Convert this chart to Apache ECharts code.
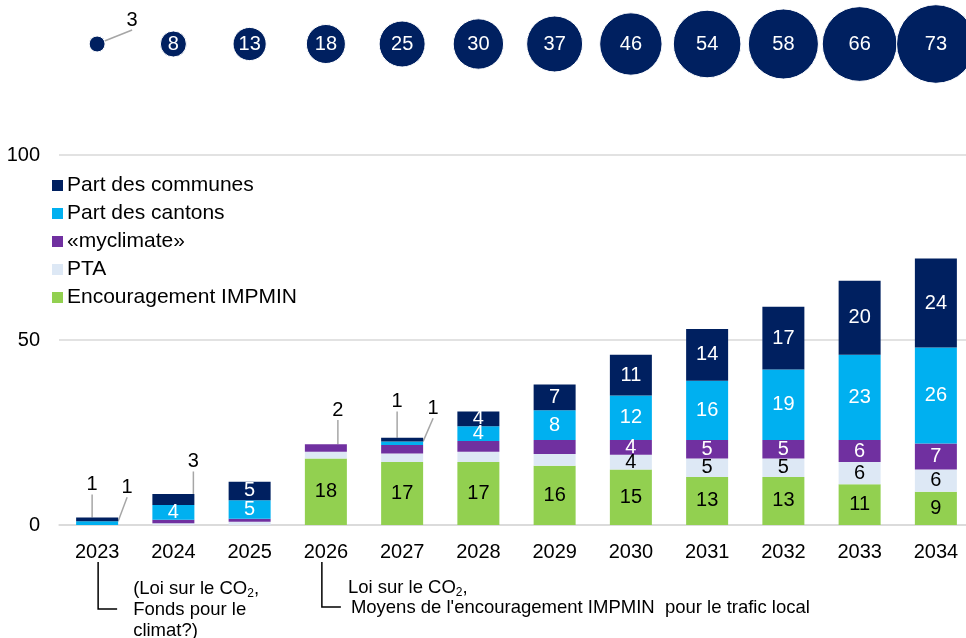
<!DOCTYPE html>
<html>
<head>
<meta charset="utf-8">
<script src="https://cdn.jsdelivr.net/npm/echarts@6/dist/echarts.min.js"></script>
<style>
  html, body { margin: 0; padding: 0; background: #fff; }
  #chart { width: 966px; height: 638px; }
</style>
</head>
<body>
<div id="chart"></div>
<script>
// Years on the category axis
const years = ['2023', '2024', '2025', '2026', '2027', '2028', '2029', '2030', '2031', '2032', '2033', '2034'];

// Totals shown in the bubbles above the bars
const totals = [3, 8, 13, 18, 25, 30, 37, 46, 54, 58, 66, 73];

// Stacked components (bottom to top)
const impmin    = [0, 0, 0, 18, 17, 17, 16, 15, 13, 13, 11, 9];
const pta       = [0, 0.5, 0.9, 1.8, 2.3, 2.8, 3.2, 4, 5, 5, 6, 6];
const myclimate = [0, 0.9, 0.8, 2, 2.3, 2.9, 3.8, 4, 5, 5, 6, 7];
const cantons   = [1, 4, 5, 0, 1, 4, 8, 12, 16, 19, 23, 26];
const communes  = [1, 3, 5, 0, 1, 4, 7, 11, 14, 17, 20, 24];

// Y axis ticks
const yTicks = { min: 0, max: 100, interval: 50 };

const FONT = '"Liberation Sans", Arial, sans-serif';
const C = {
  communes: '#002060',
  cantons: '#00B0F0',
  myclimate: '#7030A0',
  pta: '#DDE8F5',
  impmin: '#92D050'
};

// Small segments get their label pulled out on a guide line (offset in px)
const leaderOffsets = {
  'Part des communes': { 0: [-5, -35], 1: [20, -38], 4: [-5, -38] },
  'Part des cantons': { 0: [30, -36], 4: [31, -35] },
  '«myclimate»': { 3: [12, -38] }
};

const guideLine = { show: true, length2: 0, lineStyle: { color: '#A6A6A6', width: 1.5 } };

function segmentData(name, values, textColor) {
  return values.map((v, i) => {
    const item = { value: v };
    const isStated = v > 0 && Number.isInteger(v);
    if (!isStated) {
      item.label = { show: false };
    } else if (leaderOffsets[name] && leaderOffsets[name][i]) {
      item.label = { show: true, color: '#000' };
      item.labelLine = guideLine;
    } else {
      item.label = { show: true, color: textColor };
    }
    return item;
  });
}

function barSeries(name, values, color, textColor) {
  return {
    name: name,
    type: 'bar',
    stack: 'total',
    barWidth: 42,
    xAxisIndex: 0,
    yAxisIndex: 0,
    itemStyle: { color: color },
    label: {
      show: true,
      position: 'inside',
      fontFamily: FONT,
      fontSize: 20,
      color: textColor
    },
    labelLayout: function (p) {
      const off = leaderOffsets[name] && leaderOffsets[name][p.dataIndex];
      if (off && values[p.dataIndex] > 0 && Number.isInteger(values[p.dataIndex])) {
        return { dx: off[0], dy: off[1] };
      }
      return {};
    },
    data: segmentData(name, values, textColor)
  };
}

const chart = echarts.init(document.getElementById('chart'), null, { renderer: 'canvas' });

const option = {
  animation: false,
  backgroundColor: '#fff',
  textStyle: { fontFamily: FONT },
  grid: [
    { left: 59, top: 155, width: 915, height: 370, outerBoundsMode: 'none', containLabel: false },
    { left: 59, top: 0, width: 915, height: 88, outerBoundsMode: 'none', containLabel: false }
  ],
  legend: {
    orient: 'vertical',
    left: 47,
    top: 170,
    itemWidth: 11,
    itemHeight: 11,
    itemGap: 7,
    icon: 'rect',
    textStyle: { fontFamily: FONT, fontSize: 21, color: '#000', padding: [0, 0, 0, -1] },
    data: ['Part des communes', 'Part des cantons', '«myclimate»', 'PTA', 'Encouragement IMPMIN']
  },
  xAxis: [
    {
      type: 'category',
      gridIndex: 0,
      data: years,
      axisLine: { show: true, lineStyle: { color: '#D9D9D9', width: 1.5 } },
      axisTick: { show: false },
      axisLabel: { fontFamily: FONT, fontSize: 20, color: '#000', margin: 17 }
    },
    {
      type: 'category',
      gridIndex: 1,
      data: years,
      show: false
    }
  ],
  yAxis: [
    {
      type: 'value',
      gridIndex: 0,
      min: yTicks.min,
      max: yTicks.max,
      interval: yTicks.interval,
      axisLine: { show: false },
      axisTick: { show: false },
      splitLine: { lineStyle: { color: '#D9D9D9', width: 1.5 } },
      axisLabel: { fontFamily: FONT, fontSize: 20, color: '#000', margin: 19 }
    },
    {
      type: 'value',
      gridIndex: 1,
      min: 0,
      max: 2,
      show: false
    }
  ],
  series: [
    barSeries('Encouragement IMPMIN', impmin, C.impmin, '#000'),
    barSeries('PTA', pta, C.pta, '#000'),
    barSeries('«myclimate»', myclimate, C.myclimate, '#fff'),
    barSeries('Part des cantons', cantons, C.cantons, '#fff'),
    barSeries('Part des communes', communes, C.communes, '#fff'),
    {
      name: 'Total',
      type: 'scatter',
      xAxisIndex: 1,
      yAxisIndex: 1,
      symbolSize: function (val) { return 9.2 * Math.sqrt(val[2]); },
      itemStyle: { color: C.communes, opacity: 1, borderColor: '#fff', borderWidth: 1 },
      label: {
        show: true,
        position: 'inside',
        fontFamily: FONT,
        fontSize: 20,
        color: '#fff',
        formatter: function (p) { return p.value[2]; }
      },
      labelLayout: function (p) {
        if (p.dataIndex === 0) return { dx: 35, dy: -24 };
        return {};
      },
      data: years.map((y, i) => {
        const item = { value: [y, 1, totals[i]] };
        if (i === 0) {
          item.label = { color: '#000' };
          item.labelLine = guideLine;
        }
        return item;
      })
    }
  ]
};

chart.setOption(option);

// Notes below the axis, hooked to their years
const x2023 = chart.convertToPixel({ xAxisIndex: 0 }, '2023');
const x2026 = chart.convertToPixel({ xAxisIndex: 0 }, '2026');
const noteRich = {
  a: { fontFamily: FONT, fontSize: 18.5, color: '#000' },
  s: { fontFamily: FONT, fontSize: 12, color: '#000', padding: [9, 0, 0, 0] }
};
function noteText(x, y, text) {
  return { type: 'text', x: x, y: y, style: { text: text, rich: noteRich, verticalAlign: 'middle' } };
}
const bracket = { stroke: '#000', lineWidth: 1.5, fill: null };

chart.setOption({
  graphic: [
    { type: 'polyline', shape: { points: [[x2023 + 1, 562], [x2023 + 1, 609], [x2023 + 20, 609]] }, style: bracket },
    noteText(x2023 + 36, 589, '{a|(Loi sur le CO}{s|2}{a|,}'),
    noteText(x2023 + 36, 610, '{a|Fonds pour le}'),
    noteText(x2023 + 36, 631, '{a|climat?)}'),
    { type: 'polyline', shape: { points: [[x2026 - 4, 562], [x2026 - 4, 607], [x2026 + 15, 607]] }, style: bracket },
    noteText(x2026 + 22, 588, '{a|Loi sur le CO}{s|2}{a|,}'),
    noteText(x2026 + 25, 608, "{a|Moyens de l'encouragement IMPMIN  pour le trafic local}")
  ]
});
</script>
</body>
</html>
